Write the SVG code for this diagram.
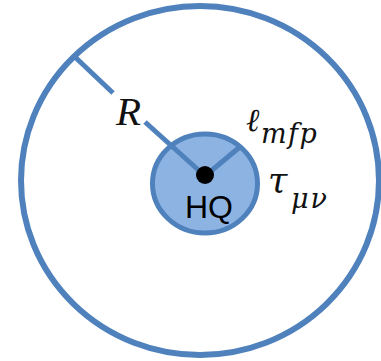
<svg xmlns="http://www.w3.org/2000/svg" width="381" height="361" viewBox="0 0 381 361">
<style>
.ring{fill:none;stroke:#4F81BD;stroke-width:6}
.core{fill:#8DB3E2;stroke:#4F81BD;stroke-width:5}
.ln{stroke:#4F81BD;stroke-width:5;stroke-linecap:butt;fill:none}
.math{font-family:"Liberation Serif","DejaVu Serif",serif;font-style:italic;fill:#111}
.dj{font-family:"DejaVu Serif","Liberation Serif",serif;font-style:italic;fill:#111}
.hq{font-family:"Liberation Sans",Arial,sans-serif;font-size:32px;fill:#000}
</style>
<rect width="381" height="361" fill="#fff"/>
<g id="outer">
<ellipse class="ring" cx="200" cy="180.5" rx="179" ry="174.5"/>
</g>
<g id="core">
<ellipse class="core" cx="205" cy="183.5" rx="52.5" ry="49.5"/>
</g>
<g id="connectors">
<line class="ln" x1="75" y1="57" x2="113" y2="93"/>
<line class="ln" x1="145" y1="122" x2="205" y2="176"/>
<line class="ln" x1="205" y1="176" x2="241" y2="146"/>
</g>
<g id="hq">
<circle cx="205" cy="175" r="9" fill="#000"/>
<text class="hq" x="185" y="218">HQ</text>
</g>
<g id="labels">
<text class="math" x="116" y="125" font-size="41">R</text>
<text class="dj" x="246" y="131" font-size="32">ℓ</text>
<text class="dj" x="261" y="143" font-size="27" letter-spacing="1.5">mfp</text>
<text class="dj" x="268" y="193" font-size="35">τ</text>
<text class="dj" x="291" y="208" font-size="27" letter-spacing="2">μν</text>
</g>
</svg>
